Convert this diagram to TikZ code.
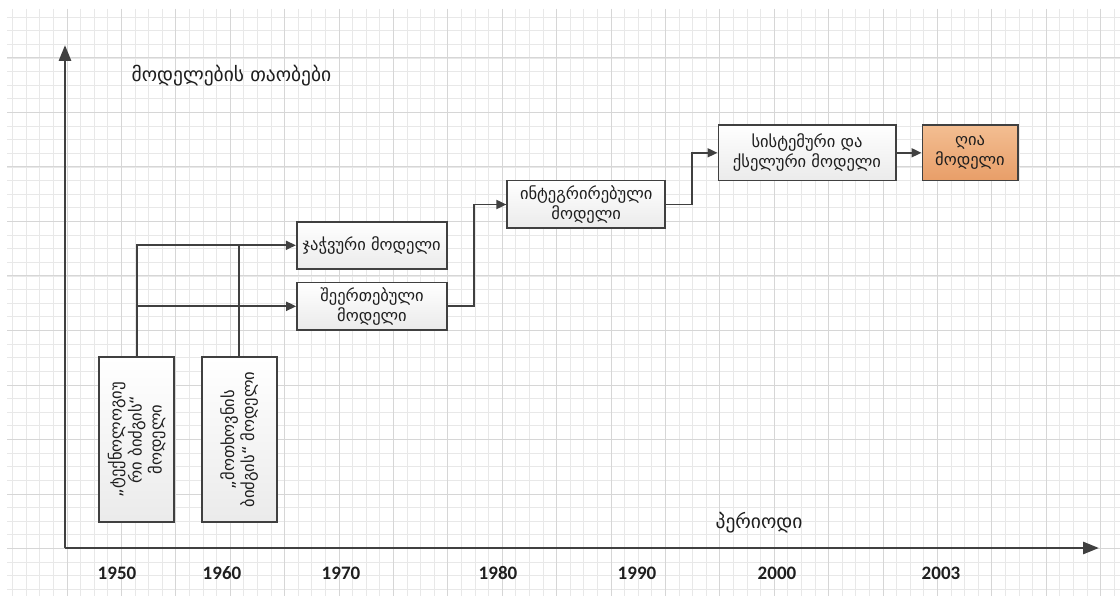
\documentclass[tikz,border=0pt]{standalone}
\usepackage{fontspec}
\newfontfamily\geo{DejaVu Sans}
\newfontfamily\yr{Carlito}
\usetikzlibrary{arrows.meta}
\definecolor{ln}{HTML}{404040}
\definecolor{gminor}{HTML}{E8E8E8}
\definecolor{gmajor}{HTML}{D6D6D6}
\definecolor{txt}{HTML}{1E1E1E}
\definecolor{orT}{HTML}{F3BE92}
\definecolor{orB}{HTML}{E89E68}
\tikzset{
  box/.style={draw=ln, line width=1.6pt, top color=white, bottom color=black!8, inner sep=0pt, align=center,
    font=\geo\fontsize{16.5}{20}\selectfont, text=txt},
  openbox/.style={box, top color=orT, bottom color=orB},
  vtext/.style={rotate=90, align=center, font=\geo\fontsize{16.5}{20}\selectfont, text=txt},
  conn/.style={draw=ln, line width=1.8pt, -{Triangle[length=10pt,width=9pt]}},
  plain/.style={draw=ln, line width=1.8pt},
  axis/.style={draw=ln, line width=2.8pt, -{Triangle[length=16pt,width=12pt]}},
  year/.style={font=\yr\bfseries\fontsize{19}{22}\selectfont, text=txt},
  lbl/.style={font=\geo\fontsize{19.5}{22}\selectfont, text=txt},
  gmin/.style={draw=gminor, line width=0.9pt},
  gmaj/.style={draw=gmajor, line width=1pt}
}
\begin{document}
\begin{tikzpicture}[x=1pt,y=-1pt]
\useasboundingbox (0,0) rectangle (1120,596);
\fill[white] (0,0) rectangle (1120,596);
% grid
\foreach \i in {-4,...,77} { \draw[gmin] ({67+13.6*\i},9) -- ({67+13.6*\i},596); }
\foreach \j in {-3,...,39} { \draw[gmin] (7,{58+13.625*\j}) -- (1120,{58+13.625*\j}); }
\foreach \k in {0,...,19} { \draw[gmaj] ({67+54.4*\k},9) -- ({67+54.4*\k},596); }
\foreach \k in {0,...,9} { \draw[gmaj] (7,{58+54.5*\k}) -- (1120,{58+54.5*\k}); }
% axes
\coordinate (o) at (65,548);
\coordinate (ytip) at (65,45);
\coordinate (xtip) at (1099,548);
\draw[axis] (o) -- (ytip);
\draw[axis] (o) -- (xtip);
% labels
\node[lbl] (title) at (231.5,76) {მოდელების თაობები};
\node[lbl] (period) at (759,523) {პერიოდი};
\node[year] (y1950) at (117,573) {1950};
\node[year] (y1960) at (222,573) {1960};
\node[year] (y1970) at (341,573) {1970};
\node[year] (y1980) at (498,573) {1980};
\node[year] (y1990) at (637,573) {1990};
\node[year] (y2000) at (777,573) {2000};
\node[year] (y2003) at (941,573) {2003};
% boxes
\node[box, minimum width=75pt, minimum height=165pt] (b1) at (136.7,439.5) {};
\node[vtext] (b1t) at (b1.center) {„ტექნოლოგიუ\\რი ბიძგის“\\მოდელი};
\node[box, minimum width=75pt, minimum height=165pt] (b2) at (239.2,439.5) {};
\node[vtext] (b2t) at (b2.center) {„მოთხოვნის\\ბიძგის“ მოდელი};
\node[box, minimum width=150pt, minimum height=47pt] (chain) at (371.7,245.3) {ჯაჭვური მოდელი};
\node[box, minimum width=150pt, minimum height=47.5pt] (coupled) at (372,306.3) {შეერთებული\\მოდელი};
\node[box, minimum width=158pt, minimum height=47.6pt] (integ) at (586.2,204.5) {ინტეგრირებული\\მოდელი};
\node[box, minimum width=177.4pt, minimum height=55.7pt] (sys) at (807,152.8) {სისტემური და\\ქსელური მოდელი};
\node[openbox, minimum width=95.4pt, minimum height=55.7pt] (open) at (970,152.8) {ღია\\მოდელი};
% connectors
\draw[conn] (b1.north) |- (chain.west);
\draw[conn] (b1.north) |- (coupled.west);
\draw[plain] (b2.north) -- (b2.north |- chain.west);
\draw[conn] (coupled.east) -- ++(26,0) |- (integ.west);
\draw[conn] (integ.east) -- ++(26,0) |- (sys.west);
\draw[conn] (sys.east) -- (open.west);
\end{tikzpicture}
\end{document}
